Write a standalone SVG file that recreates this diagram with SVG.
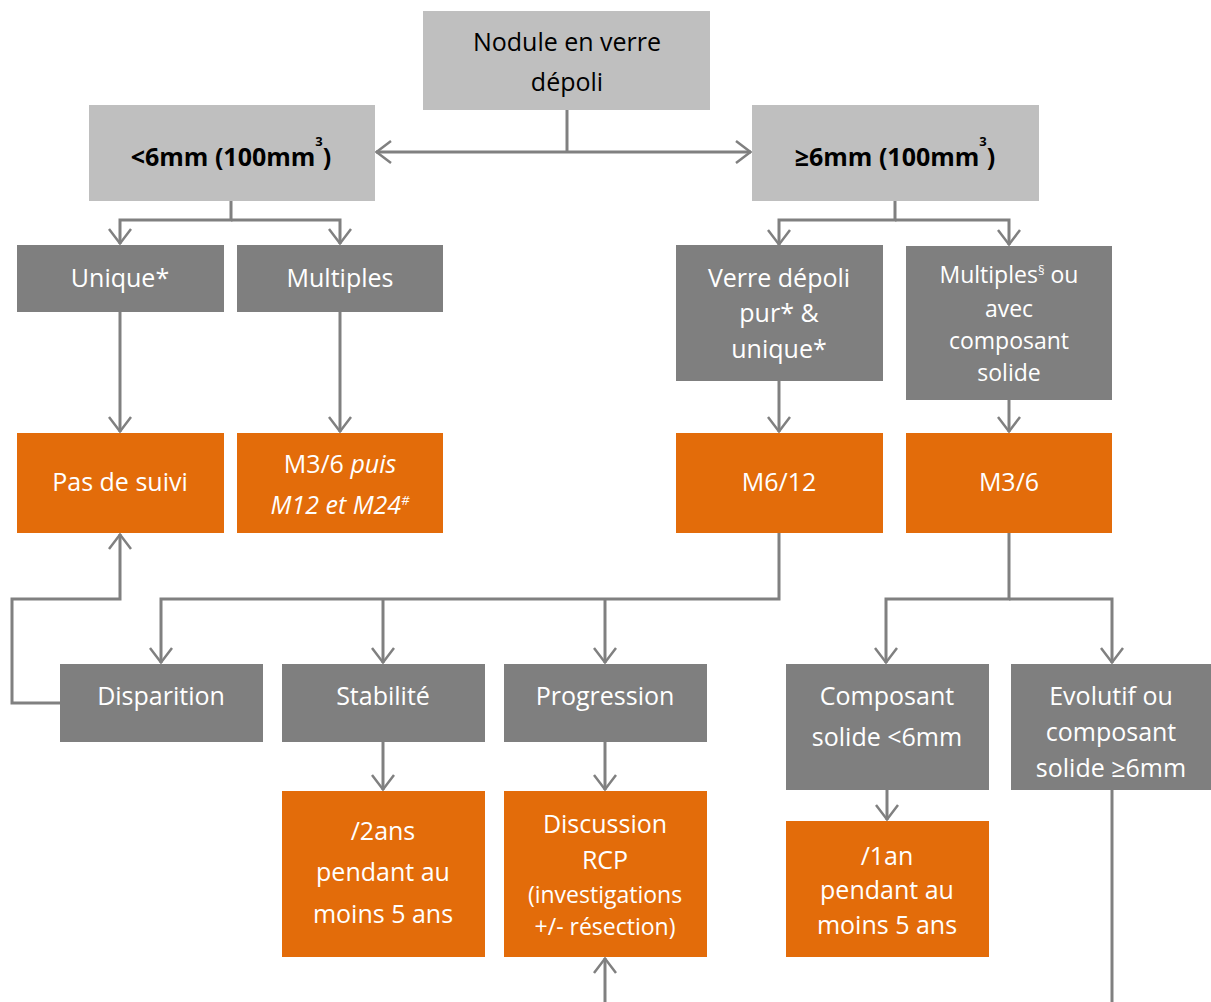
<svg xmlns="http://www.w3.org/2000/svg" width="1211" height="1002" viewBox="0 0 1211 1002">
<style>
.lg{fill:#bfbfbf}
.dg{fill:#7f7f7f}
.or{fill:#e36c0a}
text{font-family:"Open Sans","Noto Sans","Liberation Sans",sans-serif;font-size:25px;text-anchor:middle}
.w{fill:#ffffff}
.b{fill:#000000}
.bold{font-weight:bold}
.sm{font-size:23px}
.sup{font-size:13px}
.c path{fill:none;stroke:#808080;stroke-width:3}
</style>
<defs>
<marker id="ar" markerUnits="userSpaceOnUse" markerWidth="20" markerHeight="26" viewBox="0 0 17 26" refX="16" refY="13" orient="auto">
<path d="M1,2 L15.5,13 L1,24" fill="none" stroke="#808080" stroke-width="2.5"/>
</marker>
</defs>
<rect width="1211" height="1002" fill="#ffffff"/>
<g class="c">
<path d="M567,110 V152"/>
<path d="M567,152 H376" marker-end="url(#ar)"/>
<path d="M567,152 H751" marker-end="url(#ar)"/>
<path d="M231,201 V220 H120 V244" marker-end="url(#ar)"/>
<path d="M231,220 H340 V244" marker-end="url(#ar)"/>
<path d="M895,201 V220 H779 V245" marker-end="url(#ar)"/>
<path d="M895,220 H1009 V245" marker-end="url(#ar)"/>
<path d="M120,312 V432" marker-end="url(#ar)"/>
<path d="M340,312 V432" marker-end="url(#ar)"/>
<path d="M779,381 V432" marker-end="url(#ar)"/>
<path d="M1009,400 V432" marker-end="url(#ar)"/>
<path d="M779,533 V599 H161 V663" marker-end="url(#ar)"/>
<path d="M383,599 V663" marker-end="url(#ar)"/>
<path d="M605,599 V663" marker-end="url(#ar)"/>
<path d="M60,703 H12 V599 H120 V534" marker-end="url(#ar)"/>
<path d="M1009,533 V599 H886 V663" marker-end="url(#ar)"/>
<path d="M1009,599 H1112 V663" marker-end="url(#ar)"/>
<path d="M383,742 V790" marker-end="url(#ar)"/>
<path d="M605,742 V790" marker-end="url(#ar)"/>
<path d="M887,790 V820" marker-end="url(#ar)"/>
<path d="M1112,790 V1002"/>
<path d="M605,1002 V958" marker-end="url(#ar)"/>
</g>
<g id="n_nodule"><rect class="lg" x="423" y="11" width="287" height="99"/><text class="b" x="567" y="51">Nodule en verre</text><text class="b" x="567" y="91">dépoli</text></g>
<g id="n_lt6"><rect class="lg" x="89" y="105" width="286" height="96"/><text class="b bold" x="231" y="166">&lt;6mm (100mm<tspan class="sup" dy="-20">3</tspan><tspan dy="20">)</tspan></text></g>
<g id="n_ge6"><rect class="lg" x="752" y="105" width="287" height="96"/><text class="b bold" x="895" y="166">≥6mm (100mm<tspan class="sup" dy="-20">3</tspan><tspan dy="20">)</tspan></text></g>
<g id="n_unique"><rect class="dg" x="17" y="245" width="207" height="67"/><text class="w" x="120" y="287">Unique*</text></g>
<g id="n_multiples"><rect class="dg" x="237" y="245" width="206" height="67"/><text class="w" x="340" y="287">Multiples</text></g>
<g id="n_verre"><rect class="dg" x="676" y="245" width="207" height="136"/><text class="w" x="779" y="287">Verre dépoli</text><text class="w" x="779" y="322">pur* &amp;</text><text class="w" x="779" y="358">unique*</text></g>
<g id="n_multsolide"><rect class="dg" x="906" y="246" width="206" height="154"/><text class="w sm" x="1009" y="283">Multiples<tspan class="sup" dy="-8">§</tspan><tspan dy="8"> ou</tspan></text><text class="w sm" x="1009" y="317">avec</text><text class="w sm" x="1009" y="349">composant</text><text class="w sm" x="1009" y="381">solide</text></g>
<g id="n_passuivi"><rect class="or" x="17" y="433" width="207" height="100"/><text class="w" x="120" y="491">Pas de suivi</text></g>
<g id="n_m36puis"><rect class="or" x="237" y="433" width="206" height="100"/><text class="w" x="340" y="473">M3/6 <tspan font-style="italic">puis</tspan></text><text class="w" x="340" y="514" font-style="italic">M12 et M24<tspan class="sup" dy="-9">#</tspan></text></g>
<g id="n_m612"><rect class="or" x="676" y="433" width="207" height="100"/><text class="w" x="779" y="491">M6/12</text></g>
<g id="n_m36"><rect class="or" x="906" y="433" width="206" height="100"/><text class="w" x="1009" y="491">M3/6</text></g>
<g id="n_disparition"><rect class="dg" x="60" y="664" width="203" height="78"/><text class="w" x="161" y="705">Disparition</text></g>
<g id="n_stabilite"><rect class="dg" x="282" y="664" width="203" height="78"/><text class="w" x="383" y="705">Stabilité</text></g>
<g id="n_progression"><rect class="dg" x="504" y="664" width="203" height="78"/><text class="w" x="605" y="705">Progression</text></g>
<g id="n_comp6"><rect class="dg" x="786" y="664" width="203" height="126"/><text class="w" x="887" y="705">Composant</text><text class="w" x="887" y="746">solide &lt;6mm</text></g>
<g id="n_evolutif"><rect class="dg" x="1011" y="664" width="200" height="126"/><text class="w" x="1111" y="705">Evolutif ou</text><text class="w" x="1111" y="741">composant</text><text class="w" x="1111" y="777">solide ≥6mm</text></g>
<g id="n_2ans"><rect class="or" x="282" y="791" width="203" height="166"/><text class="w" x="383" y="840">/2ans</text><text class="w" x="383" y="881">pendant au</text><text class="w" x="383" y="923">moins 5 ans</text></g>
<g id="n_rcp"><rect class="or" x="504" y="791" width="203" height="166"/><text class="w" x="605" y="833">Discussion</text><text class="w" x="605" y="869">RCP</text><text class="w sm" x="605" y="903">(investigations</text><text class="w sm" x="605" y="935">+/- résection)</text></g>
<g id="n_1an"><rect class="or" x="786" y="821" width="203" height="136"/><text class="w" x="887" y="865">/1an</text><text class="w" x="887" y="899">pendant au</text><text class="w" x="887" y="934">moins 5 ans</text></g>
</svg>
